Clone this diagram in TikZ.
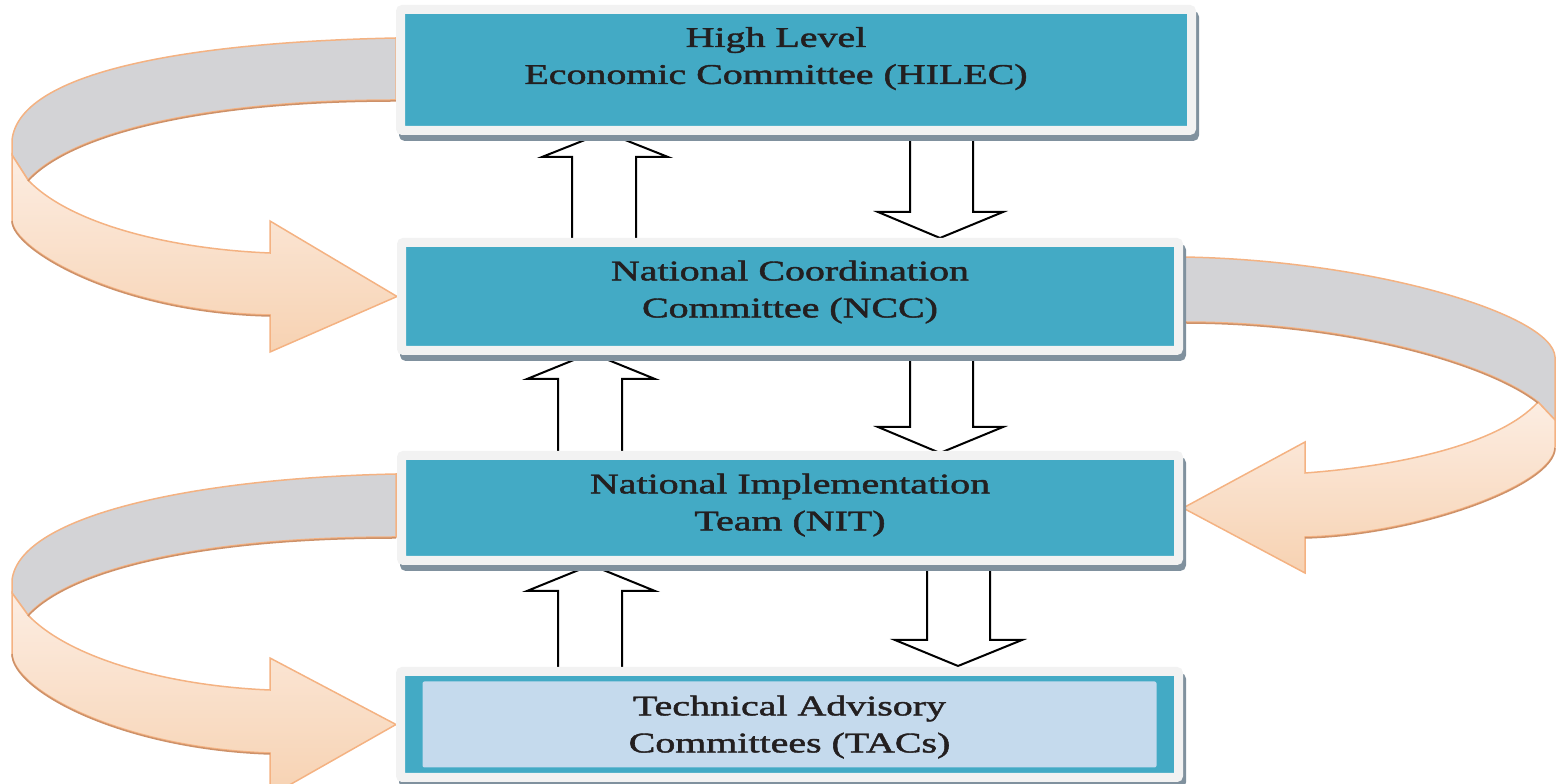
\documentclass[tikz,border=0pt]{standalone}
\usepackage{fontspec}
\setmainfont{Liberation Serif}
\newfontfamily\boxfont[FakeBold=1.4]{Liberation Serif}
\usepackage{graphicx}
\usepackage{tikz}
\usetikzlibrary{calc,shadows,backgrounds}
\definecolor{BoxTeal}{RGB}{67,170,197}
\definecolor{FrameGray}{RGB}{242,242,242}
\definecolor{ShadowSlate}{RGB}{128,145,158}
\definecolor{TacBlue}{RGB}{197,218,237}
\definecolor{RibbonGray}{RGB}{211,211,214}
\definecolor{PeachTop}{RGB}{252,237,226}
\definecolor{PeachBot}{RGB}{247,210,178}
\definecolor{PeachEdge}{RGB}{244,178,130}
\definecolor{PeachDark}{RGB}{205,145,105}
\definecolor{InkDark}{RGB}{35,31,32}
\newcommand{\btxt}[1]{\scalebox{1.4}[1]{\begin{tabular}{@{}c@{}}#1\end{tabular}}}
\tikzset{
	box/.style={draw=FrameGray,line width=9pt,fill=BoxTeal,rounded corners=2pt,
		text=InkDark,font=\boxfont\fontsize{28.5pt}{37pt}\selectfont,
		general shadow={draw=ShadowSlate,fill=ShadowSlate,line width=9pt,
			shadow xshift=3pt,shadow yshift=-6pt}},
	tacbox/.style={box,path picture={\fill[TacBlue]
			([xshift=22pt,yshift=10pt]path picture bounding box.south west) rectangle
			([xshift=-22pt,yshift=-10pt]path picture bounding box.north east);}},
	hollow/.style={draw=black,line width=2pt,fill=white},
	band/.style={fill=RibbonGray,draw=PeachEdge,line width=1.5pt},
	peach/.style={top color=PeachTop,bottom color=PeachBot,draw=PeachEdge,line width=1.5pt},
	edgedark/.style={draw=PeachDark,line width=1.5pt},
}

\begin{document}
\begin{tikzpicture}[x=1pt,y=1pt]
	\useasboundingbox (0,0) rectangle (1556,784);
	% committees
	\node[box,minimum width=791pt,minimum height=121pt] (hilec) at (796,714)
		{\kern-40pt\raisebox{12pt}[\height][\depth]{\btxt{High Level\\Economic Committee (HILEC)}}};
	\node[box,minimum width=777pt,minimum height=108pt] (ncc) at (790,487.5)
		{\raisebox{5pt}[\height][\depth]{\btxt{National Coordination\\Committee (NCC)}}};
	\node[box,minimum width=777pt,minimum height=105pt] (nit) at (790,276)
		{\raisebox{3.5pt}[\height][\depth]{\btxt{National Implementation\\Team (NIT)}}};
	\node[tacbox,minimum width=778pt,minimum height=106pt] (tac) at (789.5,59.5)
		{\raisebox{-2pt}[\height][\depth]{\btxt{Technical Advisory\\Committees (TACs)}}};
	\begin{scope}[on background layer]
		\clip (0,0) rectangle (1556,784);
		% up and down arrows
		\draw[hollow] let \p1=(ncc.north), \p2=(hilec.south) in
			(572,\y1) -- (572,\y2-22) -- (542,\y2-22) -- (605,\y2+3) -- (668,\y2-22) -- (636,\y2-22) -- (636,\y1);
		\draw[hollow] let \p1=(hilec.south), \p2=(ncc.north) in
			(910,\y1) -- (910,\y2+26) -- (878,\y2+26) -- (940,\y2) -- (1003,\y2+26) -- (973,\y2+26) -- (973,\y1);
		\draw[hollow] let \p1=(nit.north), \p2=(ncc.south) in
			(558,\y1) -- (558,\y2-24) -- (527,\y2-24) -- (591,\y2+2) -- (655,\y2-24) -- (622,\y2-24) -- (622,\y1);
		\draw[hollow] let \p1=(ncc.south), \p2=(nit.north) in
			(910,\y1) -- (910,\y2+24) -- (878,\y2+24) -- (940,\y2-2) -- (1003,\y2+24) -- (973,\y2+24) -- (973,\y1);
		\draw[hollow] let \p1=(tac.north), \p2=(nit.south) in
			(558,\y1) -- (558,\y2-26) -- (527,\y2-26) -- (591,\y2) -- (655,\y2-26) -- (622,\y2-26) -- (622,\y1);
		\draw[hollow] let \p1=(nit.south), \p2=(tac.north) in
			(927,\y1) -- (927,\y2+27) -- (895,\y2+27) -- (958,\y2+1) -- (1022,\y2+27) -- (990,\y2+27) -- (990,\y1);
		% ribbon HILEC -> NCC
		\draw[band] (396,746) .. controls (200,742) and (20,715) .. (12,644) -- (12,629) -- (28,604)
			.. controls (70,650) and (200,684) .. (396,684) -- cycle;
		\draw[peach] (12,629) -- (28,604) .. controls (70,560) and (170,535) .. (270,531) -- (270,563)
			-- (ncc.west) -- (270,432) -- (270,469) .. controls (120,472) and (12,535) .. (12,564) -- cycle;
		\draw[edgedark] (28,603) .. controls (70,649) and (200,683) .. (396,683);
		\draw[edgedark] (270,468) .. controls (120,471) and (12,534) .. (12,563);
		% ribbon NCC -> NIT
		\draw[band] (1183,527) .. controls (1370,524) and (1553,470) .. (1555,427) -- (1555,364) -- (1538,382)
			.. controls (1490,420) and (1350,462) .. (1183,462) -- cycle;
		\draw[peach] (1555,364) -- (1538,382) .. controls (1500,340) and (1400,318) .. (1305,311) -- (1305,342)
			-- (nit.east) -- (1305,211) -- (1305,247) .. controls (1420,250) and (1555,300) .. (1555,337) -- cycle;
		\draw[edgedark] (1538,381) .. controls (1490,419) and (1350,461) .. (1183,461);
		\draw[edgedark] (1305,246) .. controls (1420,249) and (1555,299) .. (1555,336);
		% ribbon NIT -> TACs
		\draw[band] (396,310) .. controls (200,306) and (20,270) .. (12,204) -- (12,191) -- (28,169)
			.. controls (70,215) and (200,247) .. (396,247) -- cycle;
		\draw[peach] (12,191) -- (28,169) .. controls (70,125) and (170,98) .. (270,94) -- (270,126)
			-- (tac.west) -- (270,-12) -- (270,31) .. controls (120,36) and (12,95) .. (12,131) -- cycle;
		\draw[edgedark] (28,168) .. controls (70,214) and (200,246) .. (396,246);
		\draw[edgedark] (270,30) .. controls (120,35) and (12,94) .. (12,130);
	\end{scope}
\end{tikzpicture}
\end{document}
